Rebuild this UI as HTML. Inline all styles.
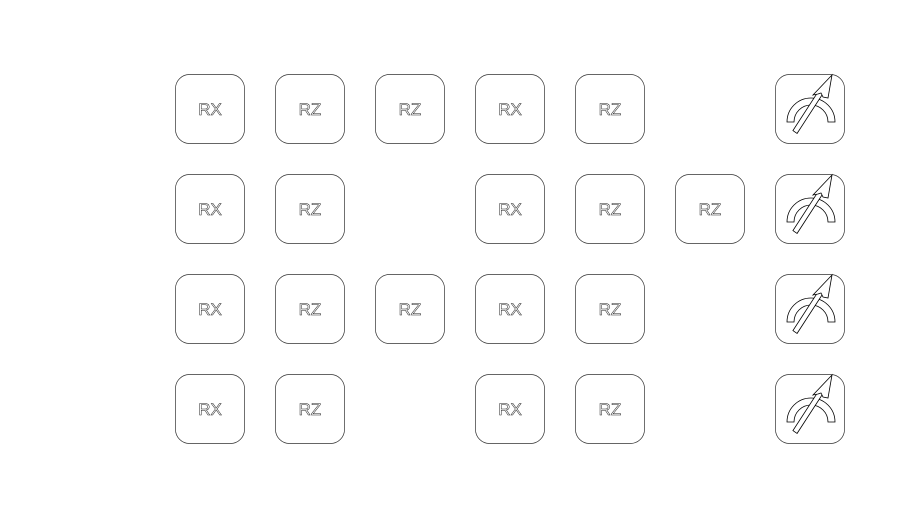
<!DOCTYPE html>
<html><head><meta charset="utf-8"><style>html,body{margin:0;padding:0;background:#fff;}svg{display:block}</style></head>
<body>
<svg width="919" height="519" viewBox="0 0 919 519" xmlns="http://www.w3.org/2000/svg">
<defs>
<g id="meter" fill="#fff" stroke="#000" stroke-width="0.8" stroke-linejoin="miter">
  <path d="M12 48 A24 24 0 0 1 60 48 L53 48 A17 17 0 0 0 19 48 Z"/>
  <polygon points="17.9,56.6 22.1,59.4 48,19.5 43.8,16.7"/>
  <polygon points="57,1 38,21 43,20 46,19 48,23 53,24"/>
</g>
</defs>
<g fill="#fff" stroke="#333" stroke-width="0.7">
  <rect x="175.5" y="74.5" width="69" height="69" rx="14"/>
  <rect x="275.5" y="74.5" width="69" height="69" rx="14"/>
  <rect x="375.5" y="74.5" width="69" height="69" rx="14"/>
  <rect x="475.5" y="74.5" width="69" height="69" rx="14"/>
  <rect x="575.5" y="74.5" width="69" height="69" rx="14"/>
  <rect x="775.5" y="74.5" width="69" height="69" rx="14"/>

  <rect x="175.5" y="174.5" width="69" height="69" rx="14"/>
  <rect x="275.5" y="174.5" width="69" height="69" rx="14"/>
  <rect x="475.5" y="174.5" width="69" height="69" rx="14"/>
  <rect x="575.5" y="174.5" width="69" height="69" rx="14"/>
  <rect x="675.5" y="174.5" width="69" height="69" rx="14"/>
  <rect x="775.5" y="174.5" width="69" height="69" rx="14"/>

  <rect x="175.5" y="274.5" width="69" height="69" rx="14"/>
  <rect x="275.5" y="274.5" width="69" height="69" rx="14"/>
  <rect x="375.5" y="274.5" width="69" height="69" rx="14"/>
  <rect x="475.5" y="274.5" width="69" height="69" rx="14"/>
  <rect x="575.5" y="274.5" width="69" height="69" rx="14"/>
  <rect x="775.5" y="274.5" width="69" height="69" rx="14"/>

  <rect x="175.5" y="374.5" width="69" height="69" rx="14"/>
  <rect x="275.5" y="374.5" width="69" height="69" rx="14"/>
  <rect x="475.5" y="374.5" width="69" height="69" rx="14"/>
  <rect x="575.5" y="374.5" width="69" height="69" rx="14"/>
  <rect x="775.5" y="374.5" width="69" height="69" rx="14"/>
</g>
<g font-family="Liberation Sans, sans-serif" font-size="17" text-anchor="middle" fill="#fff" stroke="#222" stroke-width="0.5">
  <text x="210" y="115">RX</text><text x="310" y="115">RZ</text><text x="410" y="115">RZ</text><text x="510" y="115">RX</text><text x="610" y="115">RZ</text>
  <text x="210" y="215">RX</text><text x="310" y="215">RZ</text><text x="510" y="215">RX</text><text x="610" y="215">RZ</text><text x="710" y="215">RZ</text>
  <text x="210" y="315">RX</text><text x="310" y="315">RZ</text><text x="410" y="315">RZ</text><text x="510" y="315">RX</text><text x="610" y="315">RZ</text>
  <text x="210" y="415">RX</text><text x="310" y="415">RZ</text><text x="510" y="415">RX</text><text x="610" y="415">RZ</text>
</g>
<use href="#meter" x="775" y="74"/>
<use href="#meter" x="775" y="174"/>
<use href="#meter" x="775" y="274"/>
<use href="#meter" x="775" y="374"/>
</svg>
</body></html>
